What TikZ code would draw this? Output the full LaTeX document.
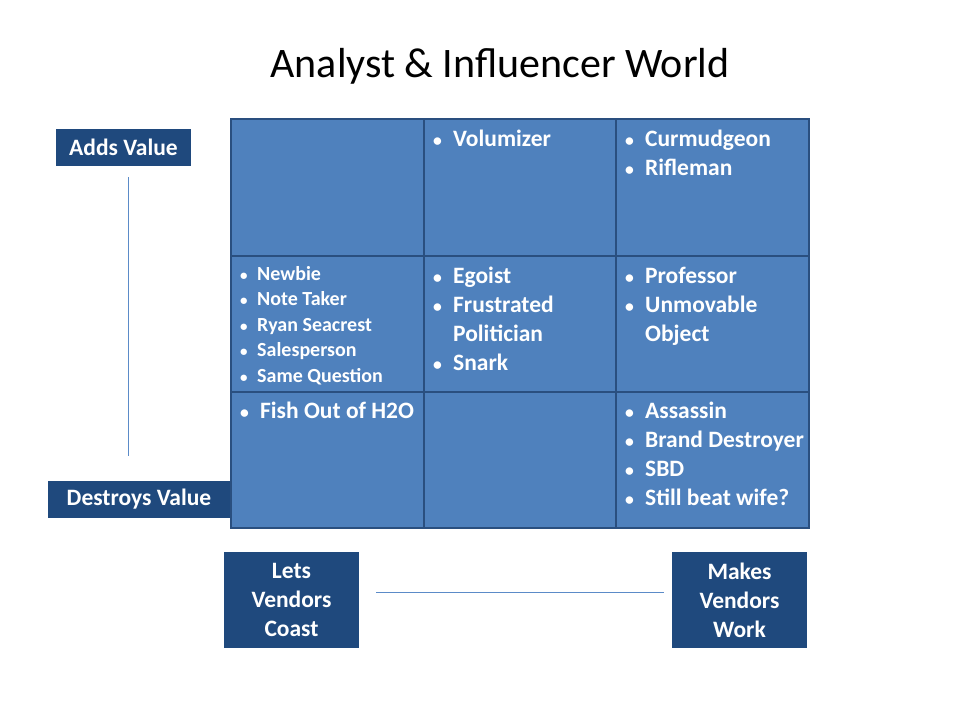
\documentclass[tikz,border=0pt]{standalone}
\usepackage{fontspec}
\setmainfont{Carlito}
\begin{document}
\begin{tikzpicture}[x=1pt,y=-1pt,
  cell/.style={draw=cellline,line width=2pt,fill=cellfill},
  ctext/.style={anchor=north west,text=white,font=\fontsize{23.5}{29}\selectfont\bfseries,align=left,inner sep=0pt},
  dbox/.style={fill=darkfill,text=white,font=\fontsize{23.5}{29}\selectfont\bfseries,align=center,inner sep=0pt},
  guide/.style={draw=guidec,line width=0.8pt}]
\definecolor{cellfill}{HTML}{4F81BD}
\definecolor{cellline}{HTML}{2A4F7F}
\definecolor{darkfill}{HTML}{1F497D}
\definecolor{guidec}{HTML}{5B8BC8}
\useasboundingbox[fill=white] (0,0) rectangle (960,720);
\node (title) at (500,66) {\fontsize{42}{46}\selectfont Analyst \& Influencer World};
\foreach \i/\xa/\xb in {1/231/424,2/424/616,3/616/809}
  \foreach \j/\ya/\yb in {1/119/256,2/256/392,3/392/528}
    \draw[cell] (\xa,\ya) rectangle (\xb,\yb);
\newcommand{\bl}{\makebox[0.85em][l]{\scalebox{0.75}{\textbullet}}}
\node[ctext] (c12) at (433,130) {\bl Volumizer};
\node[ctext] (c13) at (625,130) {\bl Curmudgeon\\\bl Rifleman};
\node[ctext,font=\fontsize{20}{25.5}\selectfont\bfseries] (c21) at (240,266) {\bl Newbie\\\bl Note Taker\\\bl Ryan Seacrest\\\bl Salesperson\\\bl Same Question};
\node[ctext] (c22) at (433,267) {\bl Egoist\\\bl Frustrated\\\phantom{\bl}Politician\\\bl Snark};
\node[ctext] (c23) at (625,267) {\bl Professor\\\bl Unmovable\\\phantom{\bl}Object};
\node[ctext] (c31) at (240,402) {\bl Fish Out of H2O};
\node[ctext] (c33) at (625,402) {\bl Assassin\\\bl Brand Destroyer\\\bl SBD\\\bl Still beat wife?};
\node[dbox,minimum width=135pt,minimum height=37pt] (add) at (123.5,147.5) {Adds Value};
\node[dbox,minimum width=182pt,minimum height=37pt] (des) at (139,499.5) {Destroys Value};
\node[dbox,minimum width=135pt,minimum height=96pt] (lets) at (291.5,600) {Lets\\Vendors\\Coast};
\node[dbox,minimum width=135pt,minimum height=96pt] (makes) at (739.5,600) {Makes\\Vendors\\Work};
\coordinate (v1) at (128,177); \coordinate (v2) at (128,456);
\coordinate (h1) at (376,592); \coordinate (h2) at (664,592);
\draw[guide] (v1) -- (v2);
\draw[guide] (h1) -- (h2);
\end{tikzpicture}
\end{document}
